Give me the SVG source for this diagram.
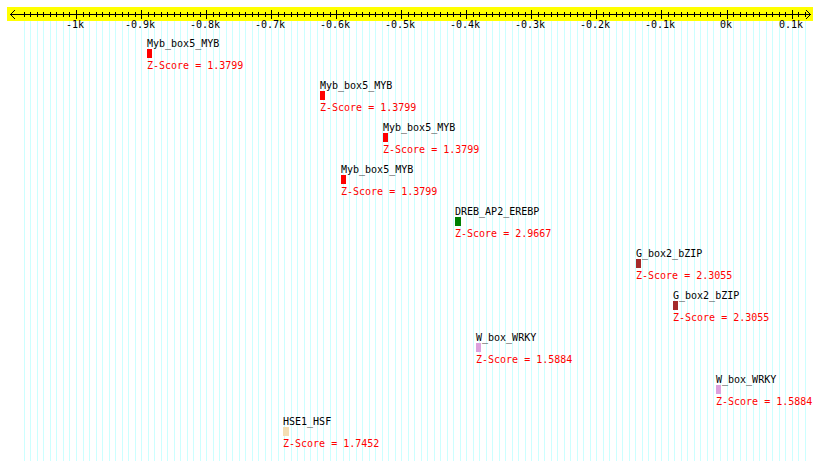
<svg xmlns="http://www.w3.org/2000/svg" width="820" height="461" viewBox="0 0 820 461">
<style>
text{font-family:"DejaVu Sans Mono","Liberation Mono",monospace;font-size:10px}
.lbl{fill:#000}
.z{fill:#ff0000}
.tk{fill:#000;text-anchor:middle}
.grid{stroke:#ccffff;stroke-width:1;fill:none}
.axis{stroke:#000;stroke-width:1;fill:none}
</style>
<rect width="820" height="461" fill="#ffffff"/>
<g id="grid">
<path class="grid" d="M24.5 21V461M30.5 21V461M37.5 21V461M43.5 21V461M50.5 21V461M56.5 21V461M63.5 21V461M69.5 21V461M76.5 21V461M83.5 21V461M89.5 21V461M96.5 21V461M102.5 21V461M109.5 21V461M115.5 21V461M122.5 21V461M128.5 21V461M135.5 21V461M141.5 21V461M148.5 21V461M154.5 21V461M161.5 21V461M167.5 21V461M174.5 21V461M180.5 21V461M187.5 21V461M193.5 21V461M200.5 21V461M206.5 21V461M213.5 21V461M219.5 21V461M226.5 21V461M232.5 21V461M239.5 21V461M245.5 21V461M252.5 21V461M258.5 21V461M265.5 21V461M271.5 21V461M278.5 21V461M284.5 21V461M291.5 21V461M297.5 21V461M304.5 21V461M310.5 21V461M317.5 21V461M323.5 21V461M330.5 21V461M336.5 21V461M343.5 21V461M349.5 21V461M356.5 21V461M362.5 21V461M369.5 21V461M375.5 21V461M382.5 21V461M388.5 21V461M395.5 21V461M401.5 21V461M408.5 21V461M414.5 21V461M421.5 21V461M427.5 21V461M434.5 21V461M440.5 21V461M447.5 21V461M453.5 21V461M460.5 21V461M466.5 21V461M473.5 21V461M479.5 21V461M486.5 21V461M492.5 21V461M499.5 21V461M505.5 21V461M512.5 21V461M518.5 21V461M525.5 21V461M531.5 21V461M538.5 21V461M544.5 21V461M551.5 21V461M557.5 21V461M564.5 21V461M570.5 21V461M577.5 21V461M583.5 21V461M590.5 21V461M596.5 21V461M603.5 21V461M609.5 21V461M616.5 21V461M622.5 21V461M629.5 21V461M635.5 21V461M642.5 21V461M648.5 21V461M655.5 21V461M661.5 21V461M668.5 21V461M674.5 21V461M681.5 21V461M687.5 21V461M694.5 21V461M700.5 21V461M707.5 21V461M713.5 21V461M720.5 21V461M727.5 21V461M733.5 21V461M740.5 21V461M746.5 21V461M753.5 21V461M759.5 21V461M766.5 21V461M772.5 21V461M779.5 21V461M785.5 21V461M792.5 21V461M798.5 21V461M805.5 21V461"/>
</g>
<g id="ruler">
<rect x="7" y="7" width="806" height="14" fill="#ffff00"/>
<path class="axis" d="M10 14.5H811M15 10L10.5 14.5L15 19M806 10L810.5 14.5L806 19"/>
<path class="axis" d="M24.5 12V17M30.5 12V17M37.5 12V17M43.5 12V17M50.5 12V17M56.5 12V17M63.5 12V17M69.5 12V17M83.5 12V17M89.5 12V17M96.5 12V17M102.5 12V17M109.5 12V17M115.5 12V17M122.5 12V17M128.5 12V17M135.5 12V17M148.5 12V17M154.5 12V17M161.5 12V17M167.5 12V17M174.5 12V17M180.5 12V17M187.5 12V17M193.5 12V17M200.5 12V17M213.5 12V17M219.5 12V17M226.5 12V17M232.5 12V17M239.5 12V17M245.5 12V17M252.5 12V17M258.5 12V17M265.5 12V17M278.5 12V17M284.5 12V17M291.5 12V17M297.5 12V17M304.5 12V17M310.5 12V17M317.5 12V17M323.5 12V17M330.5 12V17M343.5 12V17M349.5 12V17M356.5 12V17M362.5 12V17M369.5 12V17M375.5 12V17M382.5 12V17M388.5 12V17M395.5 12V17M408.5 12V17M414.5 12V17M421.5 12V17M427.5 12V17M434.5 12V17M440.5 12V17M447.5 12V17M453.5 12V17M460.5 12V17M473.5 12V17M479.5 12V17M486.5 12V17M492.5 12V17M499.5 12V17M505.5 12V17M512.5 12V17M518.5 12V17M525.5 12V17M538.5 12V17M544.5 12V17M551.5 12V17M557.5 12V17M564.5 12V17M570.5 12V17M577.5 12V17M583.5 12V17M590.5 12V17M603.5 12V17M609.5 12V17M616.5 12V17M622.5 12V17M629.5 12V17M635.5 12V17M642.5 12V17M648.5 12V17M655.5 12V17M668.5 12V17M674.5 12V17M681.5 12V17M687.5 12V17M694.5 12V17M700.5 12V17M707.5 12V17M713.5 12V17M720.5 12V17M733.5 12V17M740.5 12V17M746.5 12V17M753.5 12V17M759.5 12V17M766.5 12V17M772.5 12V17M779.5 12V17M785.5 12V17M798.5 12V17M805.5 12V17"/>
<path class="axis" d="M76.5 10V19M141.5 10V19M206.5 10V19M271.5 10V19M336.5 10V19M401.5 10V19M466.5 10V19M531.5 10V19M596.5 10V19M661.5 10V19M727.5 10V19M792.5 10V19"/>
<text class="tk" x="75" y="28">-1k</text>
<text class="tk" x="140" y="28">-0.9k</text>
<text class="tk" x="205" y="28">-0.8k</text>
<text class="tk" x="270" y="28">-0.7k</text>
<text class="tk" x="335" y="28">-0.6k</text>
<text class="tk" x="400" y="28">-0.5k</text>
<text class="tk" x="465" y="28">-0.4k</text>
<text class="tk" x="530" y="28">-0.3k</text>
<text class="tk" x="595" y="28">-0.2k</text>
<text class="tk" x="660" y="28">-0.1k</text>
<text class="tk" x="726" y="28">0k</text>
<text class="tk" x="791" y="28">0.1k</text>
</g>
<g id="myb1">
<text class="lbl" x="147" y="47">Myb_box5_MYB</text>
<rect x="147" y="49" width="5" height="9" fill="#ff0000"/>
<text class="z" x="147" y="69">Z-Score = 1.3799</text>
</g>
<g id="myb2">
<text class="lbl" x="320" y="89">Myb_box5_MYB</text>
<rect x="320" y="91" width="5" height="9" fill="#ff0000"/>
<text class="z" x="320" y="111">Z-Score = 1.3799</text>
</g>
<g id="myb3">
<text class="lbl" x="383" y="131">Myb_box5_MYB</text>
<rect x="383" y="133" width="5" height="9" fill="#ff0000"/>
<text class="z" x="383" y="153">Z-Score = 1.3799</text>
</g>
<g id="myb4">
<text class="lbl" x="341" y="173">Myb_box5_MYB</text>
<rect x="341" y="175" width="5" height="9" fill="#ff0000"/>
<text class="z" x="341" y="195">Z-Score = 1.3799</text>
</g>
<g id="dreb">
<text class="lbl" x="455" y="215">DREB_AP2_EREBP</text>
<rect x="455" y="217" width="6" height="9" fill="#008000"/>
<text class="z" x="455" y="237">Z-Score = 2.9667</text>
</g>
<g id="gbox1">
<text class="lbl" x="636" y="257">G_box2_bZIP</text>
<rect x="636" y="259" width="5" height="9" fill="#a52a2a"/>
<text class="z" x="636" y="279">Z-Score = 2.3055</text>
</g>
<g id="gbox2">
<text class="lbl" x="673" y="299">G_box2_bZIP</text>
<rect x="673" y="301" width="5" height="9" fill="#a52a2a"/>
<text class="z" x="673" y="321">Z-Score = 2.3055</text>
</g>
<g id="wbox1">
<text class="lbl" x="476" y="341">W_box_WRKY</text>
<rect x="476" y="343" width="5" height="9" fill="#dda0dd"/>
<text class="z" x="476" y="363">Z-Score = 1.5884</text>
</g>
<g id="wbox2">
<text class="lbl" x="716" y="383">W_box_WRKY</text>
<rect x="716" y="385" width="5" height="9" fill="#dda0dd"/>
<text class="z" x="716" y="405">Z-Score = 1.5884</text>
</g>
<g id="hse">
<text class="lbl" x="283" y="425">HSE1_HSF</text>
<rect x="283" y="427" width="6" height="9" fill="#f5deb3"/>
<text class="z" x="283" y="447">Z-Score = 1.7452</text>
</g>
<g id="connectors"/>
</svg>
